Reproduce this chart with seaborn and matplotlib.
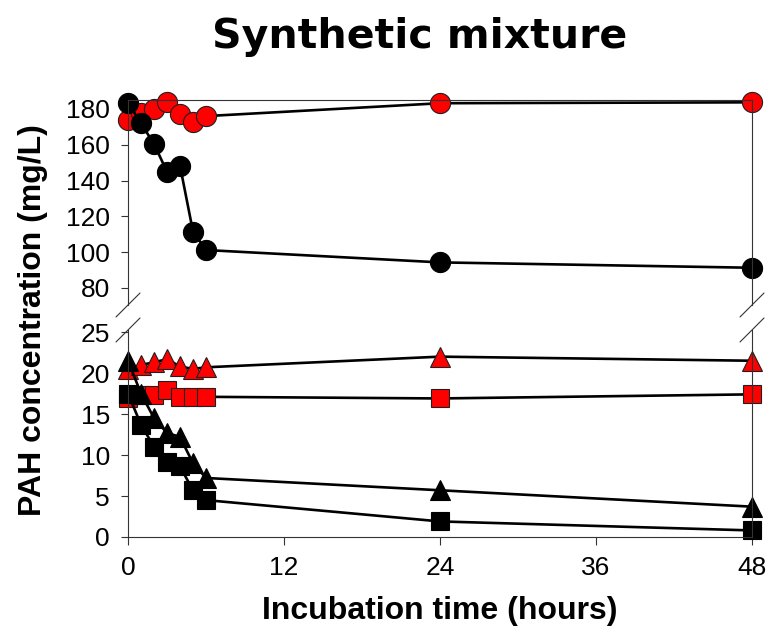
import matplotlib
matplotlib.use("Agg")
import matplotlib.pyplot as plt
import seaborn as sns
import pandas as pd

sns.set_theme(style="white")
plt.rcParams['font.family'] = ['Liberation Sans', 'DejaVu Sans']
plt.rcParams['text.color'] = 'black'

# ---- data ----
hours = [0, 1, 2, 3, 4, 5, 6, 24, 48]
red_circles = [173.9, 177.6, 179.8, 184.0, 177.2, 172.9, 176.0, 183.2, 183.7]
black_circles = [183.5, 172.0, 160.4, 145.0, 148.3, 111.5, 101.2, 94.3, 91.3]
red_triangles = [20.5, 21.0, 21.3, 21.7, 20.8, 20.5, 20.7, 22.0, 21.5]
red_squares = [16.9, 17.3, 17.3, 17.9, 17.1, 17.1, 17.1, 16.9, 17.4]
black_triangles = [21.5, 17.5, 14.5, 12.7, 12.2, 9.0, 7.2, 5.7, 3.7]
black_squares = [17.5, 13.7, 11.0, 9.2, 8.6, 5.7, 4.5, 1.9, 0.8]

x_ticks = [0, 12, 24, 36, 48]
top_ticks = [80, 100, 120, 140, 160, 180]
bottom_ticks = [0, 5, 10, 15, 20, 25]

W, H = 766, 629
fig = plt.figure(figsize=(W / 100, H / 100), dpi=100)

def fx(px):
    return px / W

def fy(py):
    return 1 - py / H

left, right = 128, 752
ax_top = fig.add_axes([fx(left), fy(305), fx(right) - fx(left), fy(100) - fy(305)])
ax_bot = fig.add_axes([fx(left), fy(537), fx(right) - fx(left), fy(330) - fy(537)])

RED = "#ff0000"

def draw(ax, y, color, marker, ms):
    df = pd.DataFrame({"t": hours, "c": y})
    sns.lineplot(data=df, x="t", y="c", ax=ax, color="black", linewidth=1.9,
                 marker=marker, markersize=ms, markerfacecolor=color,
                 markeredgecolor="#202020" if color != "black" else "black",
                 markeredgewidth=0.8, clip_on=False, legend=False)

draw(ax_top, red_circles, RED, "o", 14.5)
draw(ax_top, black_circles, "black", "o", 14.5)
draw(ax_bot, red_triangles, RED, "^", 14.5)
draw(ax_bot, red_squares, RED, "s", 13)
draw(ax_bot, black_triangles, "black", "^", 14.5)
draw(ax_bot, black_squares, "black", "s", 13)

ax_top.set_xlim(0, 48)
ax_bot.set_xlim(0, 48)
ax_top.set_ylim(70.5, 185)
ax_bot.set_ylim(0, 25.25)

spine_c = "#333333"
for ax in (ax_top, ax_bot):
    for s in ax.spines.values():
        s.set_color(spine_c)
        s.set_linewidth(0.8)
    ax.set_xlabel("")
    ax.set_ylabel("")
    ax.patch.set_alpha(0)

ax_top.spines["bottom"].set_visible(False)
ax_bot.spines["top"].set_visible(False)

ax_top.set_yticks(top_ticks)
ax_top.set_xticks([])
ax_bot.set_yticks(bottom_ticks)
ax_bot.set_xticks(x_ticks)

for ax in (ax_top, ax_bot):
    ax.tick_params(axis="y", which="major", left=True, right=False, direction="out",
                   length=5, width=0.8, color=spine_c, labelsize=19, pad=8,
                   labelcolor="black")
ax_bot.tick_params(axis="x", which="major", bottom=True, direction="out",
                   length=6, width=0.8, color=spine_c, labelsize=19, pad=8,
                   labelcolor="black")

# break marks
d = 12
for xp in (left, right):
    for yp in (305, 330):
        fig.add_artist(plt.Line2D([fx(xp - d), fx(xp + d)], [fy(yp + d), fy(yp - d)],
                                  color=spine_c, linewidth=0.8))

fig.text(fx(420), fy(37), "Synthetic mixture", ha="center", va="center",
         fontsize=29.5, fontweight="bold", family=["DejaVu Sans"], color="black")
fig.text(fx(440), fy(611), "Incubation time (hours)", ha="center", va="center",
         fontsize=23, fontweight="bold", color="black")
fig.text(fx(33), fy(320), "PAH concentration (mg/L)", ha="center", va="center",
         rotation=90, fontsize=23, fontweight="bold", color="black")

fig.savefig("out.png", dpi=100)
